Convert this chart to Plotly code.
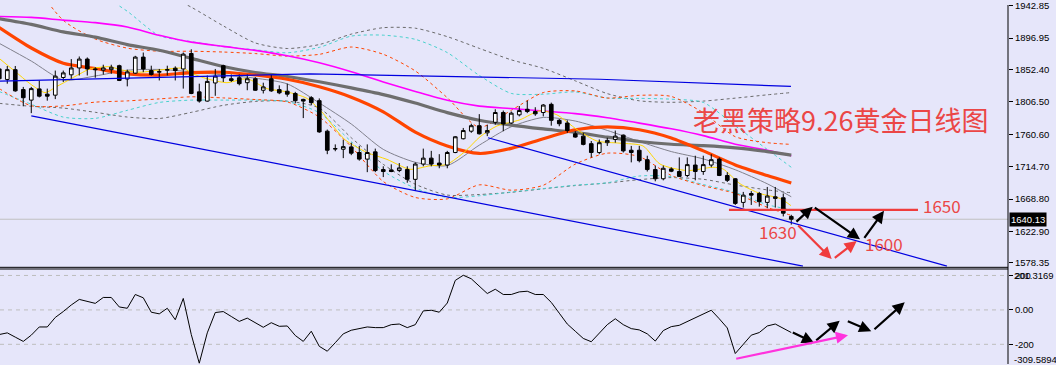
import plotly.graph_objects as go

# ---------------- data ----------------
candle_idx = list(range(-1, 99))
opens = [1853.3, 1838.4, 1852.3, 1824.0, 1809.1, 1825.0, 1817.5, 1816.1, 1841.2, 1845.0,
         1854.7, 1867.3, 1853.3, 1851.5, 1852.3, 1857.9, 1839.0, 1847.3, 1870.1, 1851.0,
         1848.7, 1851.5, 1854.3, 1853.3, 1875.2, 1820.8, 1807.7, 1833.4, 1857.9, 1839.4,
         1840.8, 1833.8, 1839.4, 1823.1, 1839.4, 1824.0, 1821.7, 1818.5, 1810.1, 1812.5,
         1808.3, 1765.0, 1740.3, 1739.4, 1742.7, 1734.8, 1725.4, 1735.7, 1710.6, 1710.1,
         1709.2, 1710.6, 1696.7, 1718.4, 1726.8, 1719.8, 1717.0, 1734.8, 1754.3, 1765.0,
         1772.8, 1762.7, 1777.6, 1791.5, 1776.6, 1788.2, 1796.1, 1792.9, 1791.5, 1803.1,
         1780.4, 1776.6, 1761.3, 1758.0, 1747.3, 1734.8, 1748.7, 1753.3, 1759.4, 1738.0,
         1738.0, 1724.6, 1710.6, 1697.5, 1711.5, 1707.8, 1702.2, 1717.0, 1707.8, 1717.0,
         1725.4, 1702.2, 1697.5, 1664.0, 1676.6, 1676.6, 1664.0, 1669.6, 1670.6, 1644.1]
highs = [1857.5, 1857.5, 1857.5, 1827.8, 1827.8, 1837.0, 1825.4, 1851.0, 1851.0, 1867.3,
         1871.0, 1869.6, 1855.7, 1859.3, 1859.3, 1859.3, 1852.3, 1871.9, 1876.6, 1857.9,
         1853.3, 1857.9, 1857.0, 1876.6, 1881.2, 1832.4, 1844.0, 1853.3, 1859.3, 1845.4,
         1845.4, 1845.4, 1841.7, 1833.8, 1845.4, 1830.0, 1832.4, 1820.8, 1811.0, 1814.7,
         1811.5, 1767.3, 1746.3, 1752.9, 1748.7, 1744.1, 1746.3, 1740.3, 1715.2, 1718.0,
         1719.8, 1715.2, 1720.8, 1740.3, 1737.1, 1732.4, 1737.1, 1758.0, 1769.6, 1775.6,
         1789.2, 1774.2, 1796.1, 1794.3, 1792.9, 1800.7, 1808.3, 1799.0, 1803.5, 1805.5,
         1782.2, 1780.4, 1765.0, 1762.7, 1751.1, 1753.3, 1755.7, 1765.9, 1760.3, 1744.1,
         1744.1, 1730.2, 1716.2, 1716.2, 1713.8, 1727.8, 1727.8, 1730.2, 1730.2, 1732.4,
         1727.8, 1706.9, 1698.5, 1678.9, 1680.0, 1678.9, 1685.9, 1685.9, 1676.6, 1646.4]
lows = [1834.8, 1832.4, 1821.0, 1800.3, 1790.6, 1812.9, 1808.3, 1810.5, 1834.8, 1839.4,
        1844.0, 1844.0, 1840.8, 1845.4, 1846.4, 1836.1, 1828.6, 1846.4, 1848.7, 1844.0,
        1837.0, 1844.0, 1837.0, 1825.4, 1817.5, 1805.5, 1806.9, 1815.2, 1834.8, 1834.8,
        1830.0, 1823.1, 1822.2, 1818.5, 1820.8, 1817.5, 1813.9, 1804.5, 1783.6, 1802.1,
        1762.7, 1732.4, 1736.6, 1726.8, 1731.0, 1723.2, 1706.9, 1706.9, 1699.9, 1706.9,
        1706.9, 1691.9, 1680.4, 1715.2, 1715.2, 1712.4, 1712.4, 1733.8, 1753.3, 1762.7,
        1760.3, 1758.0, 1774.2, 1765.0, 1775.2, 1786.0, 1790.6, 1786.8, 1786.0, 1772.8,
        1772.0, 1762.7, 1755.7, 1744.9, 1727.8, 1732.4, 1744.1, 1748.7, 1734.8, 1720.8,
        1720.8, 1707.8, 1693.9, 1695.3, 1706.9, 1699.9, 1699.9, 1695.3, 1703.1, 1713.8,
        1701.3, 1692.9, 1660.4, 1656.6, 1660.4, 1658.0, 1655.7, 1656.6, 1644.1, 1632.5]
closes = [1839.4, 1852.3, 1822.2, 1812.5, 1825.4, 1814.7, 1814.7, 1843.1, 1847.7, 1854.7,
          1867.3, 1853.3, 1852.3, 1854.7, 1855.7, 1837.0, 1849.1, 1870.1, 1853.3, 1845.4,
          1849.5, 1852.3, 1851.0, 1874.3, 1818.5, 1807.7, 1835.6, 1843.1, 1840.8, 1837.0,
          1832.4, 1839.4, 1823.1, 1827.8, 1822.2, 1819.4, 1817.5, 1808.3, 1807.7, 1805.5,
          1764.0, 1738.0, 1739.9, 1743.1, 1733.8, 1725.4, 1734.8, 1709.2, 1707.8, 1707.8,
          1712.9, 1696.7, 1718.4, 1726.8, 1718.4, 1717.0, 1734.8, 1757.1, 1765.9, 1772.8,
          1761.3, 1765.9, 1791.5, 1775.2, 1790.6, 1794.3, 1792.9, 1789.6, 1802.1, 1780.4,
          1775.6, 1765.9, 1756.7, 1746.3, 1734.8, 1748.7, 1751.9, 1758.0, 1737.1, 1734.8,
          1723.2, 1710.6, 1697.5, 1712.4, 1708.2, 1700.9, 1717.6, 1707.8, 1717.6, 1724.6,
          1702.2, 1695.3, 1662.6, 1674.3, 1674.3, 1665.0, 1673.0, 1672.0, 1648.7, 1640.13]

# moving averages / bands sampled at these bar indices
ma_idx = [-1, 3, 7, 11, 15, 19, 23, 27, 31, 35, 39, 43, 47, 51, 55, 59, 63, 67, 71, 75,
          79, 83, 87, 91, 95, 98]
ma_grey_thin = [1889.6, 1864.5, 1837.6, 1843.3, 1851.5, 1852.6, 1849.3, 1844.8, 1840.2, 1832.1,
                1805.1, 1775.2, 1739.2, 1720.9, 1716.3, 1745.2, 1771.3, 1784.5, 1779.4, 1766.1,
                1750.4, 1736.1, 1725.7, 1710.3, 1690.4, 1672.0]
ma_orange = [1911.9, 1883.0, 1861.4, 1853.9, 1846.4, 1844.5, 1848.2, 1848.6, 1844.7, 1838.7,
             1828.1, 1813.3, 1792.5, 1763.6, 1744.0, 1733.4, 1740.6, 1754.3, 1767.1, 1771.0,
             1767.1, 1755.4, 1737.1, 1717.2, 1702.1, 1691.5]
ma_darkgrey = [1924.5, 1916.5, 1905.8, 1898.5, 1887.8, 1879.8, 1868.3, 1856.7, 1848.2, 1842.6,
               1835.1, 1826.4, 1816.9, 1804.9, 1791.4, 1780.6, 1773.7, 1768.2, 1763.3, 1756.5,
               1750.4, 1746.5, 1744.4, 1741.4, 1736.1, 1731.0]
ma_magenta = [1927.7, 1926.4, 1922.5, 1919.0, 1912.8, 1901.0, 1891.3, 1885.3, 1879.6, 1872.0,
              1862.1, 1849.4, 1834.9, 1821.4, 1808.8, 1800.6, 1797.1, 1793.6, 1789.9, 1784.0,
              1776.5, 1768.4, 1758.7, 1746.6, 1738.0, 1730.1]
bb_orange_up = [2034.7, 1978.9, 1922.2, 1895.7, 1882.8, 1878.4, 1878.4, 1877.3, 1875.1, 1871.5,
                1874.0, 1884.4, 1874.1, 1850.5, 1812.5, 1770.5, 1794.7, 1819.8, 1822.1, 1812.0,
                1815.9, 1814.3, 1791.2, 1757.2, 1748.7, 1746.3]
bb_orange_dn = [1825.4, 1801.1, 1800.9, 1806.2, 1808.0, 1810.8, 1813.8, 1812.2, 1809.9, 1806.5,
                1785.1, 1743.0, 1693.6, 1671.0, 1669.0, 1688.9, 1681.3, 1688.3, 1718.3, 1733.8,
                1729.0, 1702.2, 1687.7, 1676.7, 1657.0, 1645.5]
bb_cyan_up = [2069.6, 2034.7, 1999.8, 1964.9, 1935.1, 1900.5, 1892.1, 1885.0, 1880.5, 1876.2,
              1883.9, 1899.9, 1901.2, 1895.3, 1876.5, 1844.1, 1818.6, 1817.5, 1820.7, 1812.0,
              1811.6, 1810.4, 1805.8, 1772.6, 1739.1, 1713.8]
bb_cyan_dn = [1821.2, 1803.2, 1785.0, 1783.2, 1794.6, 1805.8, 1809.1, 1809.1, 1809.1, 1807.0,
              1791.2, 1750.1, 1708.4, 1684.1, 1671.0, 1673.4, 1678.7, 1683.6, 1688.4, 1691.8,
              1701.4, 1700.6, 1689.3, 1678.1, 1660.7, 1653.8]
bb_grey_up = [2075.1, 2052.8, 2030.5, 2008.2, 1985.9, 1963.5, 1940.9, 1914.4, 1890.2, 1882.3,
              1887.9, 1902.7, 1911.8, 1911.1, 1899.1, 1882.5, 1866.2, 1854.2, 1836.4, 1818.3,
              1808.1, 1806.0, 1807.7, 1811.9, 1816.6, 1819.8]
bb_grey_dn = [1804.5, 1800.3, 1797.8, 1791.8, 1785.1, 1783.0, 1791.7, 1801.7, 1807.2, 1807.7,
              1797.8, 1755.7, 1718.0, 1689.8, 1674.4, 1675.2, 1678.3, 1683.3, 1687.9, 1691.5,
              1696.3, 1699.2, 1696.8, 1688.6, 1681.7, 1677.6]

yellow_idx = [-0.91, 1.59, 2.84, 4.71, 6.21, 7.46, 9.09, 10.34, 12.84, 14.09, 16.59, 19.09,
              21.96, 23.21, 24.96, 27.46, 29.96, 32.46, 34.96, 37.46, 39.46, 40.71, 42.21,
              44.96, 47.46, 50.34, 52.84, 54.96, 57.21, 59.09, 61.21, 64.09, 66.59, 68.71,
              71.21, 73.71, 76.59, 79.46, 81.59, 84.96, 88.21, 89.46, 91.59, 94.09, 96.59, 97.96]
yellow_val = [1867.3, 1844.0, 1832.4, 1819.8, 1828.6, 1836.2, 1846.4, 1853.3, 1856.5, 1852.3,
              1848.7, 1851.9, 1854.3, 1846.4, 1839.4, 1833.8, 1839.4, 1825.4, 1820.8, 1811.5,
              1790.6, 1772.4, 1752.9, 1734.8, 1725.0, 1711.0, 1715.9, 1718.0, 1736.1, 1757.1,
              1772.4, 1781.2, 1794.0, 1788.2, 1767.3, 1751.1, 1748.0, 1744.1, 1718.4, 1709.2,
              1713.8, 1711.5, 1690.5, 1676.6, 1669.6, 1659.4]

# trend lines (bar index, price)
upper_line_idx = [-0.91, 37.84, 74.09, 97.96]
upper_line_price = [1835.9, 1846.4, 1838.7, 1828.6]
channel_a_idx = [3.0, 99.46]
channel_a_price = [1786.8, 1573.6]
channel_b_idx = [60.09, 117.46]
channel_b_price = [1755.7, 1573.6]
level_idx = [90.21, 113.84]
level_price = [1653.4, 1653.4]

# CCI
cci_val = [-143.0, -133.4, -158.2, -183.0, -146.8, -99.1, -99.1, -43.9, -9.6, 28.5,
           60.9, 51.4, 38.0, 72.3, 72.3, 17.1, 9.5, 89.5, 70.4, -13.4,
           -22.9, 9.5, -57.2, 66.6, -143.0, -309.6, -133.4, -15.3, -9.6, -38.2,
           -66.8, -47.7, -76.3, -101.0, -74.4, -95.3, -93.4, -148.7, -183.0, -123.9,
           -211.5, -240.1, -190.6, -139.1, -118.2, -108.7, -99.1, -102.9, -102.9, -85.8,
           -82.0, -102.9, -85.8, -5.8, -2.0, -13.4, 39.9, 171.4, 201.3, 180.9,
           139.0, 95.2, 120.0, 89.5, 89.5, 104.7,
           108.5, 89.5, 89.5, 43.7, -19.1, -82.0, -123.9, -165.8, -184.9, -133.4,
           -85.8, -51.5, -85.8, -108.7, -116.3, -139.1, -181.1, -120.1, -97.2, -89.6,
           -66.8, -43.9, -21.0, -2.0, -51.5, -104.8, -253.4, -200.1, -146.8, -131.5,
           -93.4, -82.0, -108.7, -131.5]
cci_levels = [200, 0, -200]
cci_tick_text = ["200", "0.00", "-200"]
cci_max_label, cci_min_label = 201.3169, -309.5894

price_ticks = [1942.85, 1896.95, 1852.40, 1806.50, 1760.60, 1714.70, 1668.80, 1622.90, 1578.35]
last_price = 1640.13

title_text = "老黑策略9.26黄金日线图"
level_texts = ["1650", "1630", "1600"]

# arrows: (tail_idx, tail_val, head_idx, head_val)
price_black_arrows = [(98.46, 1634.7, 100.68, 1658.0),
                      (100.75, 1658.0, 106.59, 1611.6),
                      (107.0, 1611.6, 109.59, 1652.0)]
price_red_arrows = [(98.68, 1633.3, 103.05, 1583.7),
                    (103.25, 1583.7, 106.18, 1609.2)]
cci_black_arrows = [(98.0, -127.4, 100.84, -190.3),
                    (100.93, -184.6, 104.05, -62.9),
                    (104.88, -62.9, 108.0, -124.0),
                    (108.21, -120.0, 112.18, 44.0)]
cci_pink_arrows = [(90.93, -285.7, 105.09, -146.8)]

# ---------------- figure ----------------
BG = "#E6E6FA"
X_RANGE = [-0.91, 125.09]
P_RANGE = [1572.9, 1944.0]
C_RANGE = [-314.3, 234.3]
H = 365.0

fig = go.Figure()


def add_line(xs, ys, color, width, dash=None, shape="spline", xa="x", ya="y"):
    fig.add_trace(go.Scatter(x=xs, y=ys, mode="lines",
                             line=dict(color=color, width=width, dash=dash, shape=shape,
                                       smoothing=0.7 if shape == "spline" else None),
                             xaxis=xa, yaxis=ya, hoverinfo="skip", showlegend=False))


DOT = "3px,3px"
add_line(ma_idx, bb_grey_up, "#6A6A6A", 1, DOT)
add_line(ma_idx, bb_grey_dn, "#6A6A6A", 1, DOT)
add_line(ma_idx, bb_cyan_up, "#48D1CC", 1, DOT)
add_line(ma_idx, bb_cyan_dn, "#48D1CC", 1, DOT)
add_line(ma_idx, bb_orange_up, "#FF4500", 1, DOT)
add_line(ma_idx, bb_orange_dn, "#FF4500", 1, DOT)
add_line(ma_idx, ma_grey_thin, "#80808C", 1)
add_line(ma_idx, ma_magenta, "#FF00FF", 1.6)
add_line(ma_idx, ma_darkgrey, "#6E6E6E", 3.2)
add_line(ma_idx, ma_orange, "#FF4500", 3.2)
add_line(yellow_idx, yellow_val, "#FFD700", 1)

fig.add_trace(go.Candlestick(
    x=candle_idx, open=opens, high=highs, low=lows, close=closes,
    increasing=dict(line=dict(color="black", width=1), fillcolor="white"),
    decreasing=dict(line=dict(color="black", width=1), fillcolor="black"),
    whiskerwidth=0, xaxis="x3", yaxis="y3", hoverinfo="skip", showlegend=False))

add_line(upper_line_idx, upper_line_price, "#0000E0", 1.2, shape="linear", xa="x3", ya="y3")
add_line(channel_a_idx, channel_a_price, "#0000E0", 1.2, shape="linear", xa="x3", ya="y3")
add_line(channel_b_idx, channel_b_price, "#0000E0", 1.2, shape="linear", xa="x3", ya="y3")
add_line(level_idx, level_price, "#F03C3C", 2.2, shape="linear", xa="x3", ya="y3")

# CCI
add_line(candle_idx, cci_val, "black", 1, shape="linear", xa="x2", ya="y2")

shapes = []
shapes.append(dict(type="line", xref="paper", x0=0, x1=1, yref="y", y0=last_price, y1=last_price,
                   line=dict(color="#C0C0C0", width=1), layer="below"))
for lv in cci_levels:
    shapes.append(dict(type="line", xref="paper", x0=0, x1=1, yref="y2", y0=lv, y1=lv,
                       line=dict(color="#BDBDBD", width=1, dash="4px,4px"), layer="below"))
for py in (266.7, 268.4):
    shapes.append(dict(type="line", xref="paper", x0=0, x1=1, yref="paper",
                       y0=1 - py / H, y1=1 - py / H, line=dict(color="black", width=1)))
shapes.append(dict(type="line", xref="paper", x0=1, x1=1, yref="paper", y0=0, y1=1,
                   line=dict(color="black", width=1)))

ann = []
RED = "#EB4646"
ann.append(dict(x=104.15, y=1781.5, xref="x", yref="y", text=title_text, showarrow=False,
                font=dict(family="Noto Sans CJK SC", size=27, color=RED)))
for txt, (xx, yy) in zip(level_texts, [(116.9, 1659.4), (96.3, 1622.5), (109.65, 1606.4)]):
    ann.append(dict(x=xx, y=yy, xref="x", yref="y", text=txt, showarrow=False,
                    font=dict(family="Noto Sans CJK SC", size=17, color=RED)))


def arrow(tx, ty, hx, hy, color, xr, yr):
    ann.append(dict(x=hx, y=hy, ax=tx, ay=ty, xref=xr, yref=yr, axref=xr, ayref=yr,
                    text="", showarrow=True, arrowhead=2, arrowsize=1.1, arrowwidth=2.2,
                    arrowcolor=color, standoff=0, startstandoff=0))


for a in price_black_arrows:
    arrow(*a, "black", "x", "y")
for a in price_red_arrows:
    arrow(*a, "#F03C3C", "x", "y")
for a in cci_black_arrows:
    arrow(*a, "black", "x2", "y2")
for a in cci_pink_arrows:
    arrow(*a, "#FF33DD", "x2", "y2")

LBL = dict(family="Liberation Sans", size=9.5, color="black")
ann.append(dict(xref="paper", x=1.0, xanchor="left", xshift=1, yref="y", y=last_price,
                text=f"{last_price:.2f}", showarrow=False, bgcolor="black",
                font=dict(family="Liberation Sans", size=9.5, color="white"), borderpad=1))
ann.append(dict(xref="paper", x=1.0, xanchor="left", xshift=4, yref="y2", y=cci_max_label,
                text=f"{cci_max_label:.4f}", showarrow=False, font=LBL))
ann.append(dict(xref="paper", x=1.0, xanchor="left", xshift=4, yref="y2", y=cci_min_label,
                yanchor="middle", yshift=4,
                text=f"{cci_min_label:.4f}", showarrow=False, font=LBL))

fig.update_layout(
    width=1056, height=365, margin=dict(l=0, r=48, t=0, b=0),
    paper_bgcolor=BG, plot_bgcolor=BG, hovermode=False, showlegend=False,
    boxgap=0.35,
    xaxis=dict(domain=[0, 1], range=X_RANGE, visible=False, anchor="y",
               rangeslider=dict(visible=False)),
    yaxis=dict(domain=[1 - 266.0 / H, 1], range=P_RANGE, side="right", anchor="x",
               tickvals=price_ticks, ticktext=[f"{v:.2f}" for v in price_ticks],
               ticks="outside", ticklen=4, tickcolor="black", showgrid=False,
               zeroline=False, tickfont=LBL, ticklabeloverflow="allow"),
    xaxis2=dict(domain=[0, 1], range=X_RANGE, visible=False, anchor="y2"),
    yaxis2=dict(domain=[0, 1 - 269.0 / H], range=C_RANGE, side="right", anchor="x2",
                tickvals=cci_levels, ticktext=cci_tick_text, ticks="outside", ticklen=4,
                tickcolor="black", showgrid=False, zeroline=False, tickfont=LBL),
    xaxis3=dict(range=X_RANGE, overlaying="x", visible=False, anchor="y3",
                rangeslider=dict(visible=False)),
    yaxis3=dict(range=P_RANGE, overlaying="y", visible=False, anchor="x3"),
    shapes=shapes, annotations=ann,
)

fig.write_html("out.html", config={"displayModeBar": False},
               post_script="document.body.style.margin='0';document.body.style.overflow='hidden';")
